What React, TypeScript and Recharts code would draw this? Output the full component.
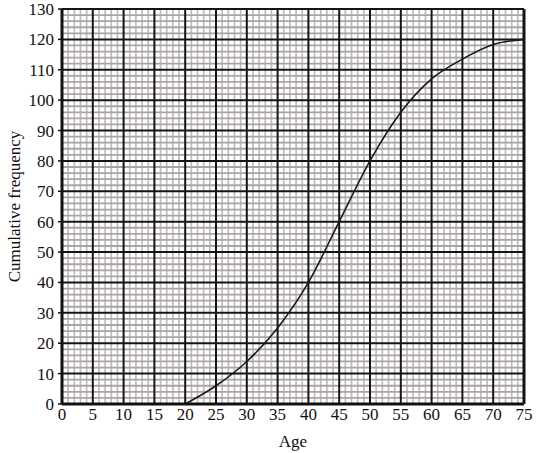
import {
  LineChart,
  Line,
  XAxis,
  YAxis,
  ReferenceLine,
  Label,
} from 'recharts'

const ages = [20, 25, 30, 35, 40, 45, 50, 55, 60, 65, 70, 75]
const cumFreq = [0, 6, 14, 25, 40, 60, 80, 96, 107, 113.5, 118.3, 120]

const xTicks = [0, 5, 10, 15, 20, 25, 30, 35, 40, 45, 50, 55, 60, 65, 70, 75]
const yTicks = [0, 10, 20, 30, 40, 50, 60, 70, 80, 90, 100, 110, 120, 130]

const xMinor = Array.from({ length: 76 }, (_, i) => i).filter((v) => v % 5 !== 0)
const yMinor = Array.from({ length: 66 }, (_, i) => i * 2).filter((v) => v % 10 !== 0)

const FONT = '"Liberation Serif", "Times New Roman", serif'

export default function App() {
  const data = ages.map((a, i) => ({ age: a, cf: cumFreq[i] }))
  const tick = { fontSize: 17, fill: '#111', fontFamily: FONT }

  return (
    <div style={{ position: 'absolute', left: 0, top: 0, width: 545, height: 453, background: '#fff' }}>
      <LineChart width={545} height={453} data={data} margin={{ top: 9, right: 21, bottom: 0, left: 0 }}>
        <XAxis
          dataKey="age"
          type="number"
          domain={[0, 75]}
          ticks={xTicks}
          interval={0}
          tick={tick}
          tickSize={0}
          tickMargin={4}
          axisLine={{ stroke: '#111', strokeWidth: 3 }}
          height={49}
        >
          <Label value="Age" position="insideBottom" offset={6} style={{ fontSize: 17, fill: '#111', fontFamily: FONT }} />
        </XAxis>
        <YAxis
          type="number"
          domain={[0, 130]}
          ticks={yTicks}
          interval={0}
          tick={tick}
          tickSize={4}
          tickMargin={4}
          tickLine={{ stroke: '#111', strokeWidth: 1.5 }}
          axisLine={{ stroke: '#111', strokeWidth: 3 }}
          width={62}
        >
          <Label
            value="Cumulative frequency"
            angle={-90}
            position="insideLeft"
            offset={14}
            style={{ fontSize: 17, fill: '#111', fontFamily: FONT, textAnchor: 'middle' }}
          />
        </YAxis>
        {xMinor.map((v) => (
          <ReferenceLine key={'xm' + v} x={v} stroke="#bdbdc2" strokeWidth={1.7} />
        ))}
        {yMinor.map((v) => (
          <ReferenceLine key={'ym' + v} y={v} stroke="#aca3a3" strokeWidth={1.8} />
        ))}
        {xTicks.slice(1, -1).map((v) => (
          <ReferenceLine key={'xM' + v} x={v} stroke="#151515" strokeWidth={2} />
        ))}
        {yTicks.slice(1).map((v) => (
          <ReferenceLine key={'yM' + v} y={v} stroke="#151515" strokeWidth={2} />
        ))}
        <ReferenceLine x={75} stroke="#151515" strokeWidth={3} />
        <Line
          type="monotone"
          dataKey="cf"
          stroke="#1a1a1a"
          strokeWidth={1.6}
          dot={false}
          activeDot={false}
          isAnimationActive={false}
        />
      </LineChart>
    </div>
  )
}
